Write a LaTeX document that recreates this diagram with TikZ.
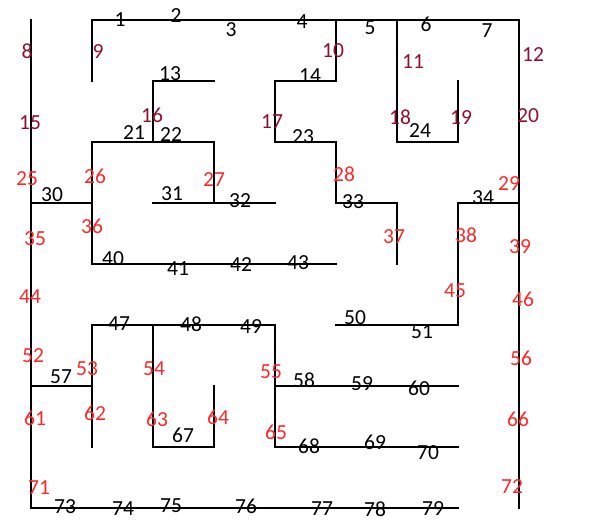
\documentclass[tikz,border=0pt]{standalone}
\usepackage{fontspec}
\setmainfont{Carlito}
\usepackage{xcolor}
\definecolor{darkred}{RGB}{145,15,45}
\definecolor{brightred}{RGB}{255,40,40}
\usetikzlibrary{calc}

\tikzset{
    wall/.style={black,line width=1.9pt,line cap=rect},
    lbl/.style={inner sep=0pt,font=\fontsize{21.5}{24}\selectfont},
}

\begin{document}
\begin{tikzpicture}[x=1pt,y=-1pt]
        \useasboundingbox (0,0) rectangle (592,522);
        % outer walls
        \draw [wall] (92,20) -- (519,20) -- (519,508);
        \draw [wall] (31,20) -- (31,508) -- (458,508);
        % upper part
        \draw [wall] (92,20) -- (92,81);
        \draw [wall] (214,81) -- (153,81) -- (153,142);
        \draw [wall] (92,264) -- (92,142) -- (214,142) -- (214,203);
        \draw [wall] (153,203) -- (275,203);
        \draw [wall] (31,203) -- (92,203);
        \draw [wall] (92,264) -- (336,264);
        \draw [wall] (336,20) -- (336,81) -- (275,81) -- (275,142) -- (336,142) -- (336,203) -- (397,203) -- (397,264);
        \draw [wall] (397,20) -- (397,142) -- (458,142) -- (458,81);
        \draw [wall] (519,203) -- (458,203) -- (458,325) -- (336,325);
        % lower part
        \draw [wall] (92,447) -- (92,325) -- (275,325) -- (275,447) -- (458,447);
        \draw [wall] (153,325) -- (153,447) -- (214,447) -- (214,386);
        \draw [wall] (275,386) -- (458,386);
        \draw [wall] (31,386) -- (92,386);

        % black labels
        \foreach \n/\x/\y in {1/120/20, 2/176/16, 3/231/30, 4/302/22, 5/370/28, 6/426/24, 7/487/31,
                13/170/74, 14/310/76, 21/134/133, 22/171/135, 23/303/137, 24/420/131,
                30/52/195, 31/172/194, 32/240/201, 33/353/202, 34/483/198,
                40/113/259, 41/178/269, 42/241/265, 43/298/263,
                47/119/324, 48/191/324, 49/251/327, 50/355/318, 51/422/332,
                57/61/377, 58/304/380, 59/362/384, 60/419/388,
                67/183/435, 68/309/446, 69/375/442, 70/428/453,
                73/65/507, 74/123/509, 75/171/506, 76/246/506, 77/322/509, 78/375/509, 79/433/509}
            \node [lbl] (n\n) at (\x,\y) {\n};
        % dark red labels
        \foreach \n/\x/\y in {8/27/51, 9/98/52, 10/333/51, 11/413/62, 12/533/55,
                15/30/123, 16/152/115, 17/272/122, 18/400/117, 19/461/118, 20/528/116}
            \node [lbl,darkred] (n\n) at (\x,\y) {\n};
        % red labels
        \foreach \n/\x/\y in {25/27/179, 26/95/176, 27/214/180, 28/344/174, 29/509/184,
                35/35/239, 36/92/226, 37/394/237, 38/466/235, 39/520/247,
                44/30/297, 45/455/291, 46/523/299,
                52/33/356, 53/87/369, 54/154/369, 55/271/372, 56/521/358,
                61/35/418, 62/95/413, 63/157/419, 64/218/417, 65/276/432, 66/518/419,
                71/39/488, 72/512/487}
            \node [lbl,brightred] (n\n) at (\x,\y) {\n};
    \end{tikzpicture}
\end{document}
